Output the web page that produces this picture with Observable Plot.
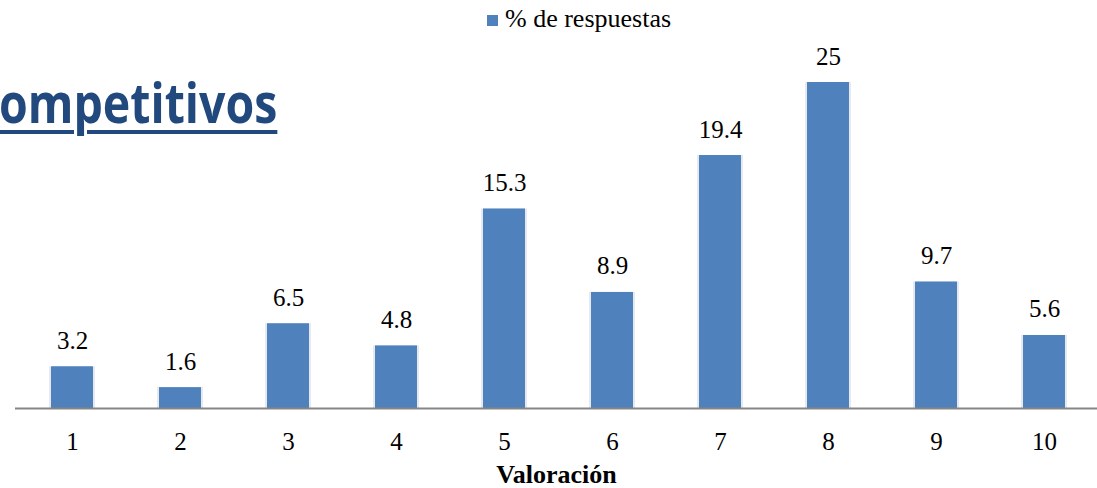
<!DOCTYPE html>
<html>
<head>
<meta charset="utf-8">
<script src="https://cdn.jsdelivr.net/npm/d3@7"></script>
<script src="https://cdn.jsdelivr.net/npm/@observablehq/plot@0.6"></script>
<style>
  html, body { margin: 0; padding: 0; background: #fff; }
  #wrap { position: relative; width: 1097px; height: 488px; overflow: hidden; }
  #title { position: absolute; left: -1px; top: 73px; font-family: "Open Sans", sans-serif; font-weight: 700; font-size: 56px; color: #22497D; text-decoration: underline; text-decoration-thickness: 3.5px; text-underline-offset: 7px; white-space: nowrap; line-height: 1; transform: scaleX(0.83); transform-origin: 0 0; }
  #legend { position: absolute; left: 487px; top: 4px; font-family: "Liberation Serif", "Times New Roman", Times, Tinos, "DejaVu Serif", "Noto Serif", serif; font-size: 26px; color: #000; display: flex; align-items: center; white-space: nowrap; }
  #legend .sw { width: 11px; height: 11px; background: #4F81BD; margin-right: 7px; margin-top: 2px; }
  #chart { position: absolute; left: 0; top: 0; }
</style>
</head>
<body>
<div id="wrap">
  <div id="chart"></div>
  <div id="title">ompetitivos</div>
  <div id="legend"><span class="sw"></span><span id="legtext"></span></div>
</div>
<script>
const categories = ["1", "2", "3", "4", "5", "6", "7", "8", "9", "10"];
const values = [3.2, 1.6, 6.5, 4.8, 15.3, 8.9, 19.4, 25, 9.7, 5.6];
const labels = ["3.2", "1.6", "6.5", "4.8", "15.3", "8.9", "19.4", "25", "9.7", "5.6"];
const seriesName = "% de respuestas";
const xTitle = "Valoración";

document.getElementById("legtext").textContent = seriesName;

const data = categories.map((c, i) => ({cat: c, value: values[i], label: labels[i]}));
const serif = "Liberation Serif, Times New Roman, Times, Tinos, DejaVu Serif, Noto Serif, serif";

const chart = Plot.plot({
  width: 1097,
  height: 488,
  marginLeft: 15,
  marginRight: 0,
  marginTop: 82,
  marginBottom: 80,
  style: {background: "transparent", fontFamily: serif},
  x: {type: "band", domain: categories, range: [14.7, 1100.3], paddingInner: 0.613, paddingOuter: 0.3065, label: null},
  y: {domain: [0, 25], range: [408, 82], axis: null},
  marks: [
    Plot.barY(data, {x: "cat", y: "value", fill: "#e6e9ee", insetLeft: -2, insetRight: -2}),
    Plot.barY(data, {x: "cat", y: "value", fill: "#4F81BD"}),
    Plot.ruleY([0], {stroke: "#868686", strokeWidth: 2}),
    Plot.text(data, {x: "cat", y: "value", text: "label", lineAnchor: "bottom", dy: -18, fontSize: 25, fill: "#000", fontFamily: serif}),
    Plot.axisX({tickSize: 0, tickPadding: 24, fontSize: 25, fill: "#000", fontFamily: serif, label: null}),
    Plot.text([xTitle], {frameAnchor: "bottom", lineAnchor: "bottom", dy: 74, fontSize: 26, fontWeight: "bold", fill: "#000", fontFamily: serif})
  ]
});
document.getElementById("chart").appendChild(chart);
</script>
</body>
</html>
